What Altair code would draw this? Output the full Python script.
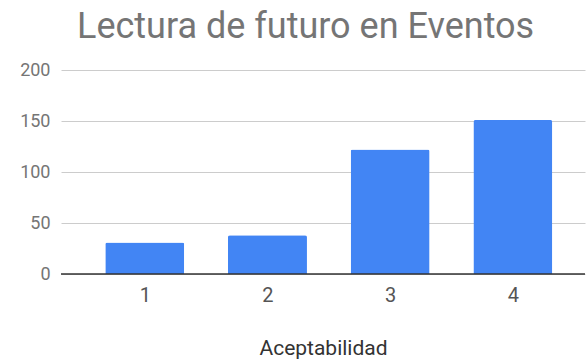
import altair as alt
import pandas as pd

categories = [1, 2, 3, 4]
values = [31, 38, 122, 151]
y_ticks = [0, 50, 100, 150, 200]

df = pd.DataFrame({"Aceptabilidad": categories, "Valor": values})

chart = alt.Chart(df).mark_bar(
    size=79, color="#4285F4", cornerRadiusTopLeft=2, cornerRadiusTopRight=2
).encode(
    x=alt.X(
        "Aceptabilidad:Q",
        scale=alt.Scale(domain=[0.358, 4.547], nice=False, zero=False),
        axis=alt.Axis(
            values=categories, grid=False, ticks=False, domain=False,
            labelFontSize=20, labelColor="#555555", labelFont="Roboto",
            labelPadding=11, title="Aceptabilidad", titleFont="Roboto",
            titleFontSize=21, titleFontWeight="normal", titleColor="#333333",
            titlePadding=32, format="d",
        ),
    ),
    y=alt.Y(
        "Valor:Q",
        scale=alt.Scale(domain=[0, 200], nice=False),
        axis=alt.Axis(
            values=y_ticks, grid=True, gridColor="#CCCCCC", ticks=False,
            domain=False, labelFontSize=18, labelColor="#757575",
            labelFont="Roboto", labelPadding=11, title=None,
        ),
    ),
)

baseline = alt.Chart(pd.DataFrame({"y": [0]})).mark_rule(
    color="#333333", strokeWidth=1.5
).encode(y=alt.Y("y:Q"))

layer = alt.layer(chart, baseline).properties(
    width=524,
    height=204,
    autosize=alt.AutoSizeParams(type="none"),
    padding={"left": 61, "top": 70, "right": 1, "bottom": 86},
    title=alt.TitleParams(
        "Lectura de futuro en Eventos", font="Roboto", fontSize=36,
        fontWeight="normal", color="#757575", anchor="start", frame="group",
        dx=16, offset=15,
    ),
).configure_view(stroke=None)

layer.save("out.html", embed_options={"renderer": "svg", "actions": False})
